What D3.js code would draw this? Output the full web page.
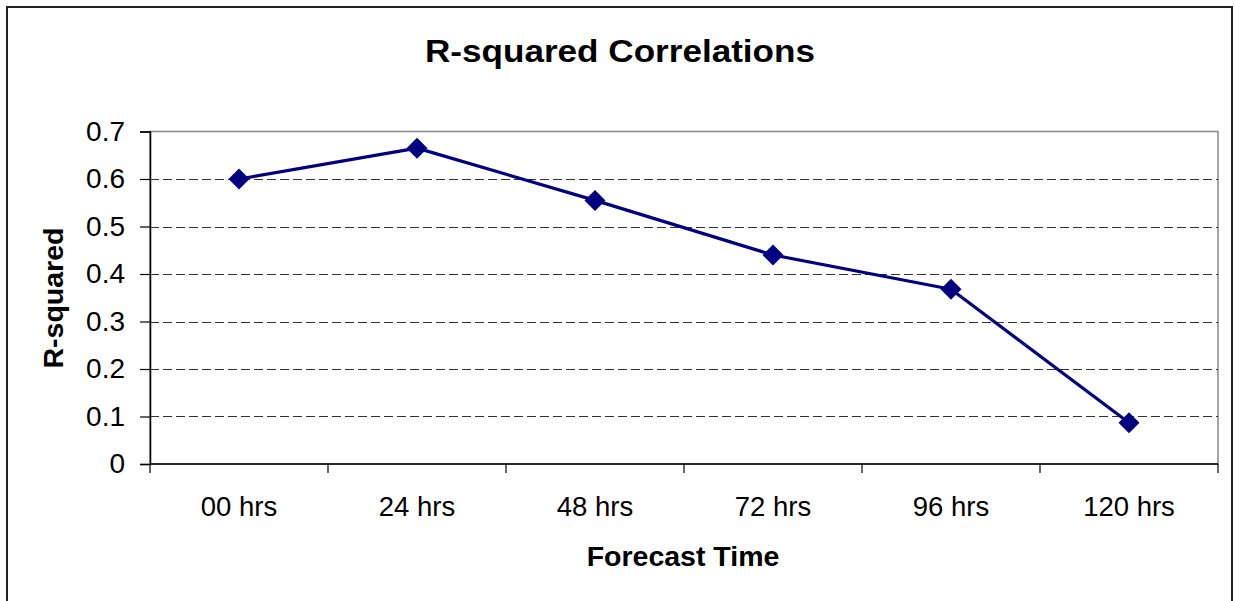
<!DOCTYPE html>
<html>
<head>
<meta charset="utf-8">
<script src="https://cdn.jsdelivr.net/npm/d3@7"></script>
<style>
  html, body { margin: 0; padding: 0; background: #fff; }
  svg { display: block; }
  text { font-family: "Liberation Sans", Arial, sans-serif; fill: #000; }
</style>
</head>
<body>
<svg id="chart" width="1235" height="601"></svg>
<script>
// Forecast lead times and their R-squared correlation values
const categories = ["00 hrs", "24 hrs", "48 hrs", "72 hrs", "96 hrs", "120 hrs"];
const rSquared = [0.600, 0.665, 0.555, 0.440, 0.368, 0.087];
const yTicks = [0, 0.1, 0.2, 0.3, 0.4, 0.5, 0.6, 0.7];

const svg = d3.select("#chart");
const plot = { left: 150, right: 1218, top: 131.5, bottom: 464 };

// Outer chart frame
svg.append("rect")
  .attr("x", 7).attr("y", 7)
  .attr("width", 1225).attr("height", 605)
  .attr("fill", "#fff")
  .attr("stroke", "#222").attr("stroke-width", 2);

const x = d3.scaleBand().domain(categories).range([plot.left, plot.right]).padding(0);
const y = d3.scaleLinear().domain([0, 0.7]).range([plot.bottom, plot.top]);

// Plot area outline (top and right in grey)
svg.append("rect")
  .attr("x", plot.left).attr("y", plot.top)
  .attr("width", plot.right - plot.left).attr("height", plot.bottom - plot.top)
  .attr("fill", "none").attr("stroke", "#888").attr("stroke-width", 1.5);

// Dashed horizontal gridlines
svg.append("g")
  .selectAll("line")
  .data(yTicks.filter(d => d > 0 && d < 0.7))
  .join("line")
  .attr("x1", plot.left).attr("x2", plot.right)
  .attr("y1", d => Math.round(y(d)) + 0.5).attr("y2", d => Math.round(y(d)) + 0.5)
  .attr("stroke", "#333").attr("stroke-width", 1)
  .attr("stroke-dasharray", "9,4");

// Y axis
const yAxis = svg.append("g")
  .attr("transform", `translate(${plot.left},0)`)
  .call(d3.axisLeft(y).tickValues(yTicks).tickSize(10).tickPadding(15)
    .tickFormat(d => d === 0 ? "0" : d3.format(".1f")(d)));
yAxis.select(".domain").attr("stroke", "#000").attr("stroke-width", 1.5);
yAxis.selectAll(".tick line").attr("stroke", "#000").attr("stroke-width", 1.2);
yAxis.selectAll(".tick text")
  .attr("font-size", 28).attr("font-family", "Liberation Sans, Arial, sans-serif")
  .attr("fill", "#000");

// X axis: ticks sit on category boundaries, labels centred in each band
const xAxisG = svg.append("g").attr("transform", `translate(0,${plot.bottom})`);
xAxisG.append("line")
  .attr("x1", plot.left).attr("x2", plot.right)
  .attr("y1", 0).attr("y2", 0)
  .attr("stroke", "#000").attr("stroke-width", 1.5);
const boundaries = categories.map(c => x(c)).concat([x(categories[categories.length - 1]) + x.bandwidth()]);
xAxisG.selectAll(".bt")
  .data(boundaries)
  .join("line")
  .attr("class", "bt")
  .attr("x1", d => d).attr("x2", d => d)
  .attr("y1", 0).attr("y2", 9)
  .attr("stroke", "#000").attr("stroke-width", 1.2);
xAxisG.selectAll(".lbl")
  .data(categories)
  .join("text")
  .attr("class", "lbl")
  .attr("x", d => x(d) + x.bandwidth() / 2)
  .attr("y", 52)
  .attr("text-anchor", "middle")
  .attr("font-size", 27.5)
  .text(d => d);

// Series line
const line = d3.line()
  .x((d, i) => x(categories[i]) + x.bandwidth() / 2)
  .y(d => y(d));
svg.append("path")
  .datum(rSquared)
  .attr("d", line)
  .attr("fill", "none")
  .attr("stroke", "#000080")
  .attr("stroke-width", 3.2)
  .attr("stroke-linejoin", "round");

// Diamond markers
svg.append("g")
  .selectAll("path")
  .data(rSquared)
  .join("path")
  .attr("transform", (d, i) => `translate(${x(categories[i]) + x.bandwidth() / 2},${y(d)})`)
  .attr("d", "M0,-10.5L10.5,0L0,10.5L-10.5,0Z")
  .attr("fill", "#000080");

// Title and axis titles
svg.append("text")
  .attr("x", 620).attr("y", 62)
  .attr("text-anchor", "middle")
  .attr("font-size", 31).attr("font-weight", "bold")
  .attr("textLength", 390).attr("lengthAdjust", "spacingAndGlyphs")
  .text("R-squared Correlations");

svg.append("text")
  .attr("x", 683).attr("y", 566)
  .attr("text-anchor", "middle")
  .attr("font-size", 28.5).attr("font-weight", "bold")
  .text("Forecast Time");

svg.append("text")
  .attr("transform", "translate(63,298) rotate(-90)")
  .attr("text-anchor", "middle")
  .attr("font-size", 28.5).attr("font-weight", "bold")
  .text("R-squared");
</script>
</body>
</html>
